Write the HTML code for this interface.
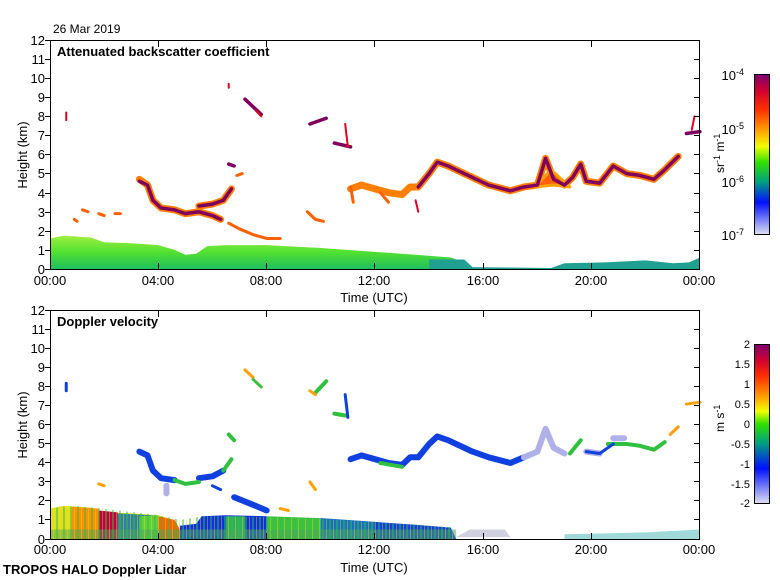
<!DOCTYPE html>
<html><head><meta charset="utf-8"><style>
body{margin:0;background:#fff;}
svg{display:block;font-family:"Liberation Sans",sans-serif;}
</style></head><body>
<svg width="780" height="580" viewBox="0 0 780 580">
<defs>
<linearGradient id="cb1" x1="0" y1="0" x2="0" y2="1">
<stop offset="0" stop-color="#800070"/><stop offset="0.1" stop-color="#d00030"/><stop offset="0.22" stop-color="#ff3000"/><stop offset="0.35" stop-color="#ffa000"/><stop offset="0.45" stop-color="#f0ff00"/><stop offset="0.55" stop-color="#30e000"/><stop offset="0.67" stop-color="#00a080"/><stop offset="0.8" stop-color="#0010ff"/><stop offset="1" stop-color="#e0e0f0"/>
</linearGradient>
<linearGradient id="cb2" x1="0" y1="0" x2="0" y2="1">
<stop offset="0" stop-color="#800070"/><stop offset="0.1" stop-color="#d00030"/><stop offset="0.2" stop-color="#ff3000"/><stop offset="0.33" stop-color="#ffa000"/><stop offset="0.42" stop-color="#f0ff00"/><stop offset="0.5" stop-color="#30e000"/><stop offset="0.62" stop-color="#00a080"/><stop offset="0.78" stop-color="#0010ff"/><stop offset="1" stop-color="#e0e0f0"/>
</linearGradient>
<linearGradient id="bl1" x1="0" y1="0" x2="0" y2="1">
<stop offset="0" stop-color="#20c060"/><stop offset="0.5" stop-color="#50e030"/><stop offset="1" stop-color="#a0f040"/>
</linearGradient>
<pattern id="stripes" width="7" height="10" patternUnits="userSpaceOnUse">
<rect x="0" y="0" width="2" height="10" fill="#30c040" opacity="0.5"/>
<rect x="4" y="0" width="1" height="10" fill="#e0e020" opacity="0.4"/>
</pattern>
</defs>

<text x="53" y="33" font-size="12">26 Mar 2019</text>

<!-- TOP PANEL DATA -->
<g transform="translate(50,269) scale(27.08,-19.08)" fill="none" stroke-linecap="round" stroke-linejoin="round">
<path d="M0,0 L0,1.6 L0.5,1.75 L1.5,1.65 L2,1.4 L3,1.35 L4,1.25 L4.6,1.0 L5,0.75 L5.4,0.8 L5.8,1.2 L6.5,1.25 L8,1.25 L10,1.1 L12,0.9 L13.5,0.75 L14.8,0.6 L15.3,0.35 L15.6,0.1 L15.6,0 Z" fill="url(#bl1)" stroke="none"/>
<path d="M14,0.5 L15.3,0.5 L15.6,0.1 L15.6,0 L14,0 Z" fill="#20a090"/>
<path d="M15.6,0 L15.6,0.1 L18.5,0.05 L19,0.3 L20.5,0.35 L22,0.45 L23,0.3 L23.6,0.35 L24,0.6 L24,0 Z" fill="#20a090"/>
<g stroke="#ff8000" stroke-width="7">
<path vector-effect="non-scaling-stroke" d="M3.3,4.7 L3.6,4.4 L3.8,3.6 L4.1,3.2 L4.6,3.1 L5.0,2.9 L5.5,3.0 L6.0,2.8 L6.3,2.6"/>
<path vector-effect="non-scaling-stroke" d="M5.5,3.3 L6.0,3.4 L6.4,3.6 L6.7,4.2"/>
<path vector-effect="non-scaling-stroke" d="M11.1,4.2 L11.5,4.4 L12.0,4.2 L12.5,4.0 L13.0,3.9 L13.3,4.3 L13.6,4.3 L14.0,5.0 L14.3,5.6 L14.7,5.4 L15.0,5.2 L15.6,4.8 L16.2,4.4 L17.0,4.1 L17.5,4.3 L18.0,4.4 L18.3,5.8 L18.6,4.7 L19.0,4.4 L19.3,4.8 L19.6,5.5 L19.8,4.6 L20.3,4.5 L20.8,5.4 L21.3,5.0 L21.8,4.9 L22.3,4.7 L22.7,5.2 L23.2,5.9"/>
</g>
<path d="M17.9,4.3 L18.6,4.4 L19.2,4.3 L18.5,5.2 Z" fill="#ff6000" stroke="#ffa000" stroke-width="3" vector-effect="non-scaling-stroke"/>
<g stroke="#800060" stroke-width="3.5">
<path vector-effect="non-scaling-stroke" d="M3.3,4.6 L3.6,4.4 L3.8,3.6 L4.1,3.2 L4.6,3.1 L5.0,2.9 L5.5,3.0 L6.0,2.8 L6.3,2.6"/>
<path vector-effect="non-scaling-stroke" d="M5.5,3.3 L6.0,3.4 L6.4,3.6 L6.7,4.2"/>
<path vector-effect="non-scaling-stroke" d="M13.6,4.3 L14.0,5.0 L14.3,5.6 L14.7,5.4 L15.0,5.2 L15.6,4.8 L16.2,4.4 L17.0,4.1 L17.5,4.3 L18.0,4.4 L18.3,5.8 L18.6,4.7 L19.0,4.4 L19.3,4.8 L19.6,5.5 L19.8,4.6 L20.3,4.5 L20.8,5.4 L21.3,5.0 L21.8,4.9 L22.3,4.7 L22.7,5.2 L23.2,5.9"/>
<path vector-effect="non-scaling-stroke" d="M7.2,8.9 L7.5,8.5 L7.8,8.1"/>
<path vector-effect="non-scaling-stroke" d="M9.6,7.6 L10.2,7.9"/>
<path vector-effect="non-scaling-stroke" d="M10.5,6.6 L11.1,6.4"/>
<path vector-effect="non-scaling-stroke" d="M23.5,7.1 L24,7.2"/>
<path vector-effect="non-scaling-stroke" d="M6.6,5.5 L6.8,5.4"/>
</g>
<g stroke="#e00020" stroke-width="2">
<path vector-effect="non-scaling-stroke" d="M7.6,8.3 L7.8,8.0"/>
<path vector-effect="non-scaling-stroke" d="M10.9,7.6 L11.0,6.4"/>
<path vector-effect="non-scaling-stroke" d="M23.7,7.3 L23.8,8.0"/>
<path vector-effect="non-scaling-stroke" d="M0.6,8.2 L0.6,7.8"/>
<path vector-effect="non-scaling-stroke" d="M6.6,9.7 L6.6,9.5"/>
<path vector-effect="non-scaling-stroke" d="M13.5,3.6 L13.6,3.0"/>
</g>
<g stroke="#ff6000" stroke-width="3">
<path vector-effect="non-scaling-stroke" d="M6.6,2.4 L7.0,2.1 L7.5,1.8 L8.0,1.6 L8.5,1.6"/>
<path vector-effect="non-scaling-stroke" d="M1.2,3.1 L1.4,3.0 M1.8,2.9 L2.0,2.8 M2.4,2.9 L2.6,2.9 M0.9,2.6 L1.0,2.5"/>
<path vector-effect="non-scaling-stroke" d="M9.5,3.0 L9.8,2.6 L10.1,2.5 M6.9,4.9 L7.1,5.0"/>
<path vector-effect="non-scaling-stroke" d="M11.1,4.3 L11.2,3.5 M12.2,4.0 L12.5,3.5"/>
</g>
</g>

<!-- BOTTOM PANEL DATA -->
<g transform="translate(50,539) scale(27.08,-19.0)" fill="none" stroke-linecap="round" stroke-linejoin="round">
<path d="M0,0 L0,1.6 L0.5,1.75 L1.5,1.65 L2,1.4 L3,1.35 L4,1.25 L4.6,1.0 L4.8,0 Z" fill="#e0e020"/>
<path d="M0.8,0 L0.8,1.7 L1.8,1.6 L1.8,0 Z" fill="#ff9000"/>
<path d="M1.8,0 L1.8,1.5 L2.5,1.4 L2.5,0 Z" fill="#c00040"/>
<path d="M2.5,0 L2.5,1.35 L3.8,1.25 L3.8,0 Z" fill="#3080a0"/>
<path d="M3.3,0 L3.3,1.2 L4.0,1.25 L4.0,0 Z" fill="#60d040"/>
<path d="M4.0,0 L4.0,1.2 L4.6,1.0 L4.8,0.5 L4.8,0 Z" fill="#ff6000"/>
<path d="M4.8,0 L4.8,0.7 L5.4,0.8 L5.6,1.2 L6.5,1.25 L8,1.2 L8,0 Z" fill="#1030e0"/>
<path d="M6.5,0 L6.5,1.2 L7.2,1.2 L7.2,0 Z" fill="#30b060"/>
<path d="M8,0 L8,1.2 L10,1.1 L10,0 Z" fill="#40c040"/>
<path d="M10,0 L10,1.1 L12,0.9 L13.5,0.75 L14.8,0.6 L15,0 Z" fill="#1040e0"/>
<path d="M10,0 L10,1.1 L12,0.9 L12,0 Z" fill="#20a0a0" opacity="0.5"/>
<path d="M15,0.1 L15.5,0.5 L16.8,0.5 L17,0.1 Z" fill="#d0d0e0"/>
<path d="M0,0 L15,0 L15,0.5 L0,0.5 Z" fill="#50a060" opacity="0.5"/>
<path d="M19,0 L19,0.25 L22,0.35 L24,0.5 L24,0 Z" fill="#60c0c0" opacity="0.6"/>
<g stroke="#1040e0" stroke-width="6">
<path vector-effect="non-scaling-stroke" d="M3.3,4.6 L3.6,4.4 L3.8,3.6 L4.1,3.2 L4.6,3.1"/>
<path vector-effect="non-scaling-stroke" d="M5.5,3.2 L6.0,3.3 L6.4,3.6"/>
<path vector-effect="non-scaling-stroke" d="M11.1,4.2 L11.5,4.4 L12.0,4.2 L12.5,4.0 L13.0,3.9 L13.3,4.3 L13.6,4.3 L14.0,5.0 L14.3,5.4 L14.7,5.2 L15.0,5.0 L15.6,4.6 L16.2,4.3 L17.0,4.0 L17.5,4.3"/>
<path vector-effect="non-scaling-stroke" d="M6.8,2.2 L7.5,1.8 L8.0,1.5"/>
</g>
<g stroke="#30c040" stroke-width="4">
<path vector-effect="non-scaling-stroke" d="M4.6,3.1 L5.0,2.9 L5.5,3.0"/>
<path vector-effect="non-scaling-stroke" d="M6.4,3.6 L6.7,4.2 M6.6,5.5 L6.8,5.2"/>
<path vector-effect="non-scaling-stroke" d="M12.2,4.0 L13.0,3.8 M19.2,4.5 L19.6,5.2 M20.6,5.0 L21.3,5.0 L21.8,4.9 L22.3,4.7 L22.7,5.1"/>
<path vector-effect="non-scaling-stroke" d="M10.2,8.3 L9.8,7.7 M10.5,6.6 L10.9,6.5"/>
</g>
<g stroke="#b0b0e8" stroke-width="6">
<path vector-effect="non-scaling-stroke" d="M17.5,4.3 L18.0,4.6 L18.3,5.8 L18.6,4.8 L19.0,4.5"/>
<path vector-effect="non-scaling-stroke" d="M19.8,4.6 L20.3,4.5 M20.8,5.3 L21.2,5.3"/>
<path vector-effect="non-scaling-stroke" d="M4.3,2.8 L4.3,2.4"/>
</g>
<g stroke="#1040e0" stroke-width="3">
<path vector-effect="non-scaling-stroke" d="M19.8,4.6 L20.3,4.5 L20.8,5.0"/>
<path vector-effect="non-scaling-stroke" d="M10.9,7.6 L11.0,6.4 M0.6,8.2 L0.6,7.8 M6.0,2.8 L6.3,2.6"/>
</g>
<g stroke="#ffa000" stroke-width="3">
<path vector-effect="non-scaling-stroke" d="M7.2,8.9 L7.5,8.5 M9.6,7.8 L9.8,7.6 M9.6,3.0 L9.8,2.6 M23.5,7.1 L24,7.2 M22.9,5.5 L23.2,5.9"/>
<path vector-effect="non-scaling-stroke" d="M1.8,2.9 L2.0,2.8 M8.5,1.6 L8.8,1.5"/>
</g>
<path vector-effect="non-scaling-stroke" d="M7.5,8.4 L7.8,8.0" stroke="#40c040" stroke-width="3"/>
</g>
<!-- stripe texture over bottom boundary layer -->
<path d="M50,539 L50,508 L77,506 L105,509 L158,515 L180,520 L204,516 L266,517 L320,519 L374,522 L450,527 L455,539 Z" fill="url(#stripes)"/>

<!-- AXES -->
<g stroke="#000" stroke-width="1" fill="none">
<rect x="50.5" y="40.5" width="649" height="229"/>
<rect x="50.5" y="310.5" width="649" height="229"/>
</g>
<g stroke="#000" stroke-width="1">
<path d="M45,40.5H50 M45,59.5H50 M45,78.5H50 M45,97.5H50 M45,116.5H50 M45,135.5H50 M45,154.5H50 M45,173.5H50 M45,193.5H50 M45,212.5H50 M45,231.5H50 M45,250.5H50 M45,269.5H50"/>
<path d="M694,59.5H700 M694,78.5H700 M694,97.5H700 M694,116.5H700 M694,135.5H700 M694,154.5H700 M694,173.5H700 M694,193.5H700 M694,212.5H700 M694,231.5H700 M694,250.5H700"/>
<path d="M158.5,41V47 M266.5,41V47 M374.5,41V47 M483.5,41V47 M591.5,41V47 M158.5,263V269 M266.5,263V269 M374.5,263V269 M483.5,263V269 M591.5,263V269"/>
<path d="M45,310.5H50 M45,329.5H50 M45,348.5H50 M45,367.5H50 M45,386.5H50 M45,405.5H50 M45,424.5H50 M45,443.5H50 M45,462.5H50 M45,481.5H50 M45,500.5H50 M45,519.5H50 M45,539.5H50"/>
<path d="M694,329.5H700 M694,348.5H700 M694,367.5H700 M694,386.5H700 M694,405.5H700 M694,424.5H700 M694,443.5H700 M694,462.5H700 M694,481.5H700 M694,500.5H700 M694,519.5H700"/>
<path d="M158.5,311V317 M266.5,311V317 M374.5,311V317 M483.5,311V317 M591.5,311V317 M158.5,533V539 M266.5,533V539 M374.5,533V539 M483.5,533V539 M591.5,533V539"/>
</g>
<g font-size="13" text-anchor="end">
<text x="45" y="45">12</text><text x="45" y="64">11</text><text x="45" y="83">10</text><text x="45" y="102">9</text><text x="45" y="121">8</text><text x="45" y="140">7</text><text x="45" y="159">6</text><text x="45" y="178">5</text><text x="45" y="198">4</text><text x="45" y="217">3</text><text x="45" y="236">2</text><text x="45" y="255">1</text><text x="45" y="274">0</text>
<text x="45" y="315">12</text><text x="45" y="334">11</text><text x="45" y="353">10</text><text x="45" y="372">9</text><text x="45" y="391">8</text><text x="45" y="410">7</text><text x="45" y="429">6</text><text x="45" y="448">5</text><text x="45" y="467">4</text><text x="45" y="486">3</text><text x="45" y="505">2</text><text x="45" y="524">1</text><text x="45" y="544">0</text>
</g>
<g font-size="13" text-anchor="middle">
<text x="50" y="285">00:00</text><text x="158" y="285">04:00</text><text x="266" y="285">08:00</text><text x="374" y="285">12:00</text><text x="483" y="285">16:00</text><text x="591" y="285">20:00</text><text x="699" y="285">00:00</text>
<text x="374" y="302">Time (UTC)</text>
<text x="50" y="554">00:00</text><text x="158" y="554">04:00</text><text x="266" y="554">08:00</text><text x="374" y="554">12:00</text><text x="483" y="554">16:00</text><text x="591" y="554">20:00</text><text x="699" y="554">00:00</text>
<text x="374" y="572">Time (UTC)</text>
<text transform="translate(27,155) rotate(-90)">Height (km)</text>
<text transform="translate(27,425) rotate(-90)">Height (km)</text>
</g>
<text x="57" y="56" font-size="13" font-weight="bold">Attenuated backscatter coefficient</text>
<text x="57" y="326" font-size="13" font-weight="bold">Doppler velocity</text>
<text x="3" y="574" font-size="13" font-weight="bold">TROPOS HALO Doppler Lidar</text>

<!-- COLORBARS -->
<rect x="754.5" y="74.5" width="15" height="160" fill="url(#cb1)" stroke="#000"/>
<g font-size="13" text-anchor="end">
<text x="744" y="80">10<tspan dy="-5" font-size="9">-4</tspan></text>
<text x="744" y="134">10<tspan dy="-5" font-size="9">-5</tspan></text>
<text x="744" y="187">10<tspan dy="-5" font-size="9">-6</tspan></text>
<text x="744" y="240">10<tspan dy="-5" font-size="9">-7</tspan></text>
</g>
<text transform="translate(724,173) rotate(-90)" font-size="12">sr<tspan dy="-4" font-size="9">-1</tspan><tspan dy="4"> m</tspan><tspan dy="-4" font-size="9">-1</tspan></text>

<rect x="754.5" y="344.5" width="15" height="159" fill="url(#cb2)" stroke="#000"/>
<g font-size="11" text-anchor="end">
<text x="750" y="348">2</text><text x="750" y="368">1.5</text><text x="750" y="388">1</text><text x="750" y="408">0.5</text><text x="750" y="428">0</text><text x="750" y="448">-0.5</text><text x="750" y="468">-1</text><text x="750" y="488">-1.5</text><text x="750" y="507">-2</text>
</g>
<text transform="translate(724,432) rotate(-90)" font-size="12">m s<tspan dy="-4" font-size="9">-1</tspan></text>
</svg>
</body></html>
